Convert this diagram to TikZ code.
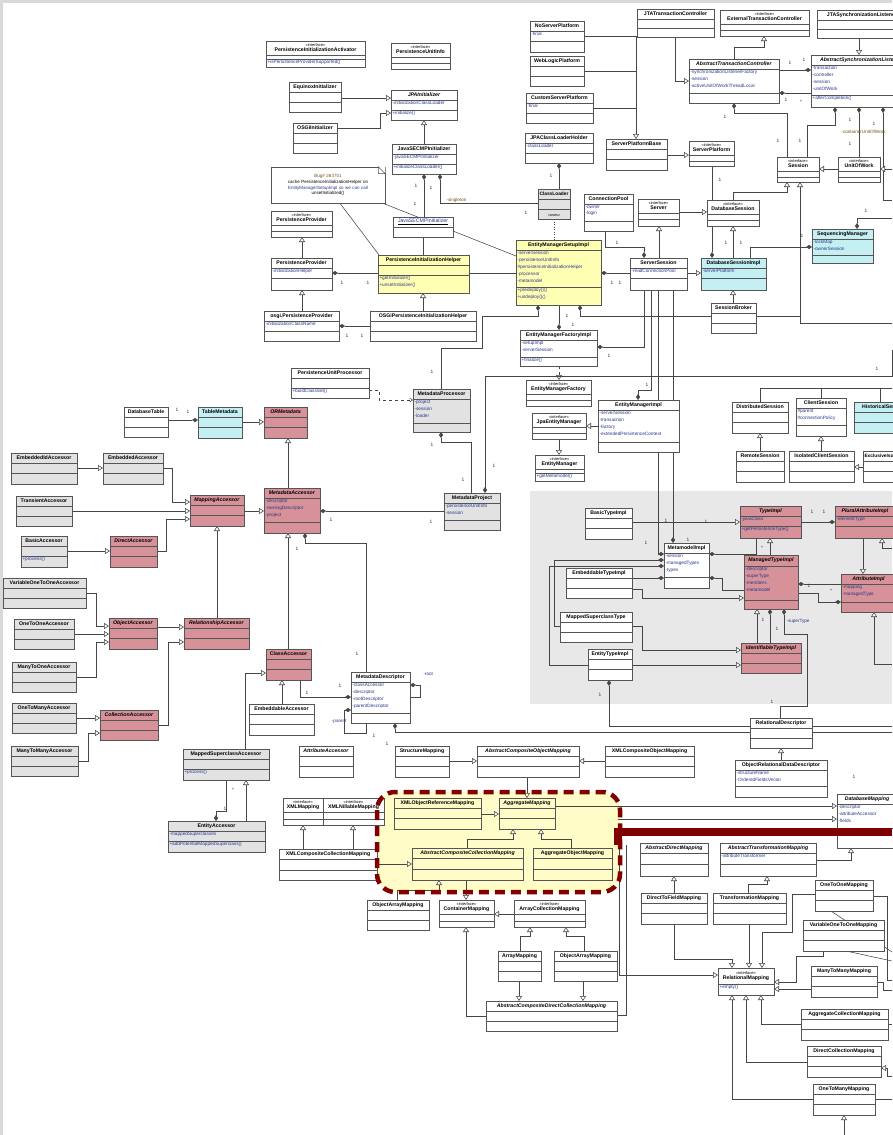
\documentclass[tikz,border=0pt]{standalone}
\usepackage{fontspec}
\setmainfont{Liberation Sans}
\usepackage{graphicx}
\usetikzlibrary{arrows.meta}
\pgfdeclarelayer{back}
\pgfdeclarelayer{bg}
\pgfdeclarelayer{front}
\pgfsetlayers{back,bg,main,front}
\definecolor{lc}{RGB}{70,70,70}
\definecolor{bc}{RGB}{85,85,85}
\definecolor{pinkc}{RGB}{214,146,152}
\definecolor{cyanc}{RGB}{196,240,244}
\definecolor{yelc}{RGB}{255,255,180}
\definecolor{grayc}{RGB}{226,226,226}
\definecolor{panel}{RGB}{232,232,232}
\definecolor{dred}{RGB}{128,0,0}
\definecolor{hly}{RGB}{255,252,200}
\definecolor{attc}{RGB}{40,55,140}
\definecolor{brn}{RGB}{120,80,20}
\newsavebox\clstbox
\def\parsegeo#1/#2/#3/#4/#5/#6\relax{\def\gX{#1}\def\gY{#2}\def\gW{#3}\def\gT{#4}\def\gA{#5}\def\gM{#6}}
\newcommand\tfont{\fontsize{5.2}{6}\selectfont\bfseries}
\newcommand\stereo[1]{{\fontsize{4}{4.5}\selectfont\mdseries «interface»}\\#1}
\newcommand\fittitle[2]{%
  \sbox\clstbox{\tfont\renewcommand\arraystretch{0.78}\begin{tabular}{@{}c@{}}#2\end{tabular}}%
  \ifdim\wd\clstbox>#1pt\relax\resizebox{#1pt}{!}{\usebox\clstbox}\else\usebox\clstbox\fi}
\newcounter{mc}
\newcommand\mul[2]{\stepcounter{mc}\node[mult] (mul\themc) at (#1) {#2};}
\tikzset{
  clsbox/.style={draw=bc, line width=0.55pt, fill=white, inner sep=0pt, outer sep=0pt},
  clsline/.style={draw=bc, line width=0.45pt},
  attr/.style={font=\fontsize{4.7}{6.8}\selectfont, text=attc, align=left, inner sep=0pt},
  ln/.style={draw=lc, line width=0.55pt},
  inh/.style={ln, -{Triangle[length=5pt,width=6pt,fill=white]}},
  dinh/.style={inh, dashed},
  comp/.style={ln, {Diamond[length=6pt,width=4pt]}-},
  compi/.style={ln, -{Diamond[length=6pt,width=4pt]}},
  dep/.style={ln, dashed, -{Straight Barb[length=3pt,width=4pt]}},
  mult/.style={font=\fontsize{4.8}{5}\selectfont, inner sep=0.3pt, text=black!80},
  elab/.style={font=\fontsize{4.6}{5}\selectfont, inner sep=0.3pt},
  notebox/.style={draw=bc, line width=0.55pt, fill=white, inner sep=1pt, minimum width=114pt, minimum height=36pt, text width=110pt, align=center, font=\fontsize{4.5}{5.8}\selectfont}
}
\newcommand\cls[6][]{%
  \parsegeo#3\relax
  \pgfmathsetmacro\hH{\gT+\gA+\gM}%
  \pgfmathsetmacro\hTA{\gT+\gA}%
  \pgfmathsetmacro\hTh{\gT/2}%
  \pgfmathsetmacro\hWm{\gW-3}%
  \pgfmathsetmacro\yA{\gT+1.3}%
  \pgfmathsetmacro\yM{\hTA+1.3}%
  \node[clsbox,#1,minimum width=\gW pt,minimum height=\hH pt,anchor=north west] (#2) at (\gX,\gY) {};
  \draw[clsline] ([yshift=-\gT pt]#2.north west) -- ([yshift=-\gT pt]#2.north east);
  \ifdim\gM pt>0pt\relax
    \draw[clsline] ([yshift=-\hTA pt]#2.north west) -- ([yshift=-\hTA pt]#2.north east);
  \fi
  \node[inner sep=0pt, text=black] (#2-t) at ([yshift=-\hTh pt]#2.north) {\fittitle{\hWm}{#4}};
  \node[attr,anchor=north west] (#2-a) at ([xshift=1.3pt,yshift=-\yA pt]#2.north west) {#5};
  \node[attr,anchor=north west] (#2-m) at ([xshift=1.3pt,yshift=-\yM pt]#2.north west) {#6};
}
\begin{document}
\begin{tikzpicture}[x=1pt,y=-1pt]
\useasboundingbox (0,0) rectangle (892,1135);
\begin{pgfonlayer}{back}
  \fill[black!15] (0,0) rectangle (892,1135);
  \fill[white] (3,3) rectangle (892,1135);
  \fill[panel] (530,491) rectangle (892,704);
  \fill[hly, rounded corners=18pt] (377,792) rectangle (620,892);
\end{pgfonlayer}

% ---------------- classes ----------------
\cls{pia}{266/41/99/14/4/8}{\stereo{PersistenceInitializationActivator}}{}{+isPersistenceProviderSupported()}
\cls{pui}{391/43/59/14/6/6}{\stereo{PersistenceUnitInfo}}{}{}
\cls{equinox}{289/82/52/10/10/10}{EquinoxInitializer}{}{}
\cls{osgiinit}{293/123/44/10/10/10}{OSGiInitializer}{}{}
\cls{jpainit}{391/90/66/10/10/10}{\textit{JPAInitializer}}{-initializationClassLoader}{+initialize()}
\cls{jse1}{392/144/64/10/10/10}{JavaSECMPInitializer}{-javaSECMPInitializer}{+initializeClassLoader()}
\node[notebox] (note) at (328,185) {\textcolor{brn}{Bug\# 263701}\\cache PersistenceInitializationHelper on\\\textcolor{attc}{EntityManagerSetupImpl so we can call}\\unsetInitialized()};
\fill[white] ([xshift=-7pt]note.north east) -- (note.north east) -- ([yshift=-7pt]note.north east) -- cycle;
\draw[bc, line width=0.5pt] ([xshift=-7pt]note.north east) -- ([xshift=-7pt,yshift=-7pt]note.north east) -- ([yshift=-7pt]note.north east) -- cycle;
\cls{ppi}{271/211/61/14/6/6}{\stereo{PersistenceProvider}}{}{}
\cls{jse2}{393/217/60/10/10/0}{\underline{\mdseries\textcolor{attc}{JavaSECMPInitializer}}}{}{}
\cls{ppc}{271/258/61/10/10/12}{PersistenceProvider}{-initializationHelper}{}
\cls[fill=yelc]{pih}{378/255/91/10/10/18}{PersistenceInitializationHelper}{}{+getInitializer()\\+unsetInitializer()}
\cls[fill=grayc]{classloader}{538/189/32/10/10/10}{ClassLoader}{}{}
\cls{connpool}{584/194/49/10/17/10}{ConnectionPool}{-owner\\-login}{}
\cls[fill=yelc]{emsetup}{516/240/85/10/37/18}{EntityManagerSetupImpl}{-serverSession\\-persistenceUnitInfo\\\#persistenceInitializationHelper\\-processor\\-metamodel}{+predeploy()()\\+undeploy()()}
\cls{noserver}{530/21/54/10/10/11}{NoServerPlatform}{-final}{}
\cls{weblogic}{530/56/54/10/10/10}{WebLogicPlatform}{}{}
\cls{customserver}{526/93/67/10/10/10}{CustomServerPlatform}{-final}{}
\cls{jpaclh}{525/133/68/10/10/10}{JPAClassLoaderHolder}{-classLoader}{}
\cls{jtatc}{637/9/77/10/9/9}{JTATransactionController}{}{}
\cls{etc}{720/10/89/14/6/6}{\stereo{ExternalTransactionController}}{}{}
\cls{jtasl}{817/10/90/10/9/9}{JTASynchronizationListener}{}{}
\cls{atc}{689/59/90/10/24/10}{\textit{AbstractTransactionController}}{-synchronizationListenerFactory\\-session\\-activeUnitOfWorkThreadLocal}{}
\cls{asl}{811/55/100/10/30/12}{\textit{AbstractSynchronizationListener}}{-transaction\\-controller\\-session\\-unitOfWork}{+afterCompletion()}
\cls{spbase}{606/139/61/10/10/11}{ServerPlatformBase}{}{}
\cls{splat}{689/141/45/14/6/5}{\stereo{ServerPlatform}}{}{}
\cls{session}{777/157/42/14/6/5}{\stereo{Session}}{}{}
\cls{uow}{838/157/42/14/6/5}{\stereo{UnitOfWork}}{}{}
\cls{server}{638/199/41/14/6/7}{\stereo{Server}}{}{}
\cls{dbsession}{707/200/52/14/6/6}{\stereo{DatabaseSession}}{}{}
\cls[fill=cyanc]{seqmgr}{812/229/61/10/16/8}{SequencingManager}{-lockMap\\-ownerSession}{}
\cls{srvsession}{630/258/57/10/10/12}{ServerSession}{-readConnectionPool}{}
\cls[fill=cyanc]{dbsimpl}{701/258/65/10/10/12}{DatabaseSessionImpl}{-serverPlatform}{}
\cls{broker}{711/303/45/10/10/10}{SessionBroker}{}{}
\cls{osgipp}{264/311/75/10/10/10}{osgi.PersistenceProvider}{-initializationClassName}{}
\cls{osgipih}{370/311/106/10/10/10}{OSGiPersistenceInitializationHelper}{}{}
\cls{pup}{291/368/78/10/10/10}{PersistenceUnitProcessor}{}{+buildClassSet()}
\cls[fill=grayc]{mproc}{413/389/57/10/24/9}{MetadataProcessor}{-project\\-session\\-loader}{}
\cls{emfimpl}{520/330/77/10/17/9}{EntityManagerFactoryImpl}{-setupImpl\\-serverSession}{+finalize()}
\cls{emf}{526/380/65/14/6/6}{\stereo{EntityManagerFactory}}{}{}
\cls{jpaem}{532/413/54/14/6/6}{\stereo{JpaEntityManager}}{}{}
\cls{em}{535/455/49/14/4/8}{\stereo{EntityManager}}{}{+getMetamodel()}
\cls{emimpl}{598/400/81/10/32/10}{EntityManagerImpl}{-serverSession\\-transaction\\-factory\\-extendedPersistenceContext}{}
\cls[fill=grayc]{mproject}{444/493/56/10/17/10}{MetadataProject}{-persistenceUnitInfo\\-session}{}
\cls{dbtable}{124/407/44/10/10/10}{DatabaseTable}{}{}
\cls[fill=cyanc]{tablemeta}{198/407/44/10/10/11}{TableMetadata}{}{}
\cls[fill=pinkc]{ormeta}{264/407/43/10/10/11}{\textit{ORMetadata}}{}{}
\cls[fill=grayc]{embid}{11/453/66/10/10/11}{EmbeddedIdAccessor}{}{}
\cls[fill=grayc]{embacc}{103/453/60/10/10/11}{EmbeddedAccessor}{}{}
\cls[fill=grayc]{transacc}{16/496/56/10/10/10}{TransientAccessor}{}{}
\cls[fill=pinkc]{mapacc}{190/495/54/10/10/11}{\textit{MappingAccessor}}{}{}
\cls[fill=pinkc]{metaacc}{264/488/56/10/24/11}{\textit{MetadataAccessor}}{-descriptor\\-owningDescriptor\\-project}{}
\cls[fill=grayc]{basicacc}{21/536/46/10/10/11}{BasicAccessor}{}{+process()}
\cls[fill=pinkc]{directacc}{110/536/47/10/10/11}{\textit{DirectAccessor}}{}{}
\cls[fill=grayc]{vo2o}{3/578/83/10/10/10}{VariableOneToOneAccessor}{}{}
\cls[fill=grayc]{o2o}{14/619/60/10/10/10}{OneToOneAccessor}{}{}
\cls[fill=grayc]{m2o}{12/662/64/10/10/10}{ManyToOneAccessor}{}{}
\cls[fill=grayc]{o2m}{12/703/64/10/10/10}{OneToManyAccessor}{}{}
\cls[fill=grayc]{m2m}{11/746/67/10/10/10}{ManyToManyAccessor}{}{}
\cls[fill=pinkc]{objacc}{109/618/48/10/10/11}{\textit{ObjectAccessor}}{}{}
\cls[fill=pinkc]{relacc}{184/618/65/10/10/11}{\textit{RelationshipAccessor}}{}{}
\cls[fill=pinkc]{collacc}{100/710/58/10/10/10}{\textit{CollectionAccessor}}{}{}
\cls[fill=pinkc]{classacc}{266/649/45/10/10/11}{ClassAccessor}{}{}
\cls{embdacc}{249/704/65/10/10/11}{EmbeddableAccessor}{}{}
\cls[fill=grayc]{msacc}{183/749/86/10/10/11}{MappedSuperclassAccessor}{}{+process()}
\cls[fill=grayc]{entacc}{168/821/97/10/10/11}{EntityAccessor}{-mappedSuperclasses}{+addPotentialMappedSuperclass()}
\cls{mdesc}{351/672/59/10/31/10}{MetadataDescriptor}{-classAccessor\\-descriptor\\-rootDescriptor\\-parentDescriptor}{}
\cls{attracc}{299/746/54/10/10/11}{\textit{AttributeAccessor}}{}{}
\cls{structmap}{395/746/54/10/10/11}{StructureMapping}{}{}
\cls{acom}{477/746/102/10/10/11}{\textit{AbstractCompositeObjectMapping}}{}{}
\cls{xmlcom}{605/746/89/10/10/11}{XMLCompositeObjectMapping}{}{}
\cls{xmlmap}{283/798/40/14/7/6}{\stereo{XMLMapping}}{}{}
\cls{xmlnil}{323/798/61/14/7/6}{\stereo{XMLNillableMapping}}{}{}
\cls[fill=hly]{xmlorm}{394/798/87/10/10/11}{XMLObjectReferenceMapping}{}{}
\cls[fill=hly]{aggmap}{499/798/56/10/10/11}{\textit{AggregateMapping}}{}{}
\cls[fill=hly]{accm}{412/848/111/10/11/11}{\textit{AbstractCompositeCollectionMapping}}{}{}
\cls[fill=hly]{aggobj}{533/848/79/10/11/11}{AggregateObjectMapping}{}{}
\cls{xmlccm}{279/849/98/10/11/10}{XMLCompositeCollectionMapping}{}{}
\cls{oam1}{367/900/62/10/10/10}{ObjectArrayMapping}{}{}
\cls{contmap}{439/900/55/14/7/6}{\stereo{ContainerMapping}}{}{}
\cls{acm}{514/900/71/14/7/6}{\stereo{ArrayCollectionMapping}}{}{}
\cls{arrmap}{498/951/43/10/10/10}{ArrayMapping}{}{}
\cls{oam2}{554/951/63/10/10/10}{ObjectArrayMapping}{}{}
\cls{acdcm}{486/1001/131/10/10/10}{\textit{AbstractCompositeDirectCollectionMapping}}{}{}
\cls{adm}{640/843/68/10/11/12}{\textit{AbstractDirectMapping}}{}{}
\cls{atm}{720/843/96/10/11/12}{\textit{AbstractTransformationMapping}}{-attributeTransformer}{}
\cls{dtf}{641/893/66/10/10/11}{DirectToFieldMapping}{}{}
\cls{tm}{713/893/73/10/10/11}{TransformationMapping}{}{}
\cls{o2om}{815/880/58/10/10/11}{OneToOneMapping}{}{}
\cls{vo2om}{803/920/81/10/10/11}{VariableOneToOneMapping}{}{}
\cls{relmap}{718/968/56/16/0/11}{\stereo{RelationalMapping}}{}{+empty()}
\cls{m2mm}{811/966/66/10/10/11}{ManyToManyMapping}{}{}
\cls{acolm}{801/1009/87/10/10/11}{AggregateCollectionMapping}{}{}
\cls{dcm}{807/1046/74/10/10/11}{DirectCollectionMapping}{}{}
\cls{o2mm}{813/1084/62/10/10/11}{OneToManyMapping}{}{}
\cls{dbmap}{837/794/60/10/24/20}{\textit{DatabaseMapping}}{-descriptor\\-attributeAccessor\\-fields}{}
\cls{reldesc}{750/718/62/10/10/10}{RelationalDescriptor}{}{}
\cls{ordd}{735/760/92/10/16/11}{ObjectRelationalDataDescriptor}{-structureName\\-OrderedFieldsVector}{}
\cls{basictype}{585/508/47/10/10/11}{BasicTypeImpl}{}{}
\cls{metamodel}{664/543/45/10/24/11}{MetamodelImpl}{-session\\-managedTypes\\-types}{}
\cls[fill=pinkc]{typeimpl}{740/506/61/10/10/12}{\textit{TypeImpl}}{-javaClass}{+getPersistenceType()}
\cls[fill=pinkc]{plural}{835/506/60/10/10/12}{\textit{PluralAttributeImpl}}{-elementType}{}
\cls[fill=pinkc]{managed}{744/555/54/11/34/9}{\textit{ManagedTypeImpl}}{-descriptor\\-superType\\-members\\-metamodel}{}
\cls[fill=pinkc]{attrimpl}{841/574/55/10/18/10}{\textit{AttributeImpl}}{-mapping\\-managedType}{}
\cls[fill=pinkc]{identif}{741/643/60/10/10/10}{\textit{IdentifiableTypeImpl}}{}{}
\cls{embtype}{566/568/66/10/10/10}{EmbeddableTypeImpl}{}{}
\cls{mstype}{560/612/72/10/10/10}{MappedSuperclassType}{}{}
\cls{enttype}{588/649/44/10/10/11}{EntityTypeImpl}{}{}
\cls{distsess}{732/402/56/10/10/11}{DistributedSession}{}{}
\cls{clientsess}{796/398/50/10/17/11}{ClientSession}{\#parent\\\#connectionPolicy}{}
\cls[fill=cyanc]{histsess}{854/402/60/10/10/11}{HistoricalSession}{}{}
\cls{remotesess}{736/451/48/10/10/11}{RemoteSession}{}{}
\cls{isoclient}{789/451/65/10/10/11}{IsolatedClientSession}{}{}
\cls{exiso}{863/451/75/10/10/11}{ExclusiveIsolatedClientSession}{}{}

% ---------------- connectors ----------------
\begin{pgfonlayer}{bg}
\draw[inh] (equinox.east |- 0,98) -- (jpainit.west |- 0,98);
\draw[inh] (osgiinit.east |- 0,128) -| (380,113) -- (jpainit.west |- 0,113);
\draw[inh] (424,0 |- jse1.north) -- (424,0 |- jpainit.south);
\draw[comp] (424,0 |- jse1.south) -- (424,0 |- jse2.north);
\draw[comp] (440,0 |- jse1.south) -- (440,203) -- (classloader.west |- 0,203);
\draw[ln] (423,0 |- jse2.south) -- (423,0 |- pih.north);
\draw[ln] (340,0 |- note.south) -- (379,0 |- pih.north);
\draw[ln] (383,0 |- note.south) -- (emsetup.west |- 0,256);
\draw[inh] (302,0 |- ppc.north) -- (302,0 |- ppi.south);
\draw[comp] (ppc.east |- 0,273) -- (pih.west |- 0,273);
\draw[ln] (pih.east |- 0,273) -- (emsetup.west |- 0,273);
\draw[inh] (302,0 |- osgipp.north) -- (302,0 |- ppc.south);
\draw[inh] (423,0 |- osgipih.north) -- (423,0 |- pih.south);
\draw[comp] (osgipp.east |- 0,326) -- (osgipih.west |- 0,326);
\draw[ln, dotted] (554,0 |- classloader.south) -- (554,0 |- emsetup.north);
\draw[comp] (559,0 |- jpaclh.south) -- (559,0 |- classloader.north);
\draw[compi] (605,0 |- connpool.south) |- (644,247) -- (644,0 |- srvsession.north);
\draw[inh] (659,0 |- srvsession.north) -- (659,0 |- server.south);
\draw[inh] (server.east |- 0,212) -- (dbsession.west |- 0,212);
\draw[inh] (733,0 |- dbsimpl.north) -- (733,0 |- dbsession.south);
\draw[inh] (srvsession.east |- 0,273) -- (dbsimpl.west |- 0,273);
\draw[compi] (712,0 |- splat.south) -- (712,0 |- dbsimpl.north);
\draw[inh] (spbase.east |- 0,155) -- (splat.west |- 0,155);
\draw[inh] (noserver.east |- 0,36) -| (636,0 |- spbase.north);
\draw[ln] (weblogic.east |- 0,71) -- (636,71);
\draw[ln] (customserver.east |- 0,108) -- (636,108);
\draw[inh] (675,0 |- jtatc.south) |- (atc.west |- 0,81);
\draw[inh] (734,0 |- atc.north) |- (764,47) -- (764,0 |- etc.south);
\draw[compi] (atc.east |- 0,70) -- (asl.west |- 0,70);
\draw[comp] (atc.east |- 0,93) -- (asl.west |- 0,93);
\draw[inh] (859,0 |- jtasl.south) -- (859,0 |- asl.north);
\draw[comp] (734,0 |- atc.south) |- (787,113) -- (787,0 |- session.north);
\draw[comp] (835,0 |- asl.south) |- (807,125) -- (807,0 |- session.north);
\draw[comp] (859,0 |- asl.south) -- (859,0 |- uow.north);
\draw[comp] (883,0 |- asl.south) -- (883,200) -- (892,200);
\draw[inh] (892,169) -- (uow.east |- 0,169);
\draw[inh] (uow.west |- 0,169) -- (session.east |- 0,169);
\draw[inh] (733,0 |- dbsession.north) |- (787,192) -- (787,0 |- session.south);
\draw[inh] (892,323) -| (800,0 |- session.south);
\draw[compi] (750,0 |- dbsimpl.north) |- (seqmgr.west |- 0,247);
\draw[comp] (857,0 |- seqmgr.north) |- (892,218);
\draw[comp] (emsetup.east |- 0,273) -- (srvsession.west |- 0,273);
\draw[inh] (733,0 |- broker.north) -- (733,0 |- dbsimpl.south);
\draw[comp] (538,0 |- emsetup.south) |- (482,316) |- (441,348) -- (441,0 |- mproc.north);
\draw[compi] (559,0 |- emsetup.south) -- (559,0 |- emfimpl.north);
\draw[comp] (580,0 |- emsetup.south) |- (800,316);
\draw[dinh] (559,0 |- emfimpl.south) -- (559,0 |- emf.north);
\draw[compi] (892,350) |- (485,376) -- (485,0 |- mproject.north);
\draw[inh] (559,0 |- jpaem.south) -- (559,0 |- em.north);
\draw[inh] (emimpl.west |- 0,426) -- (jpaem.east |- 0,426);
\draw[compi] (651,0 |- srvsession.south) |- (638,390) -- (638,0 |- emimpl.north);
\draw[compi] (644,0 |- srvsession.south) |- (emfimpl.east |- 0,347);
\draw[compi] (673,0 |- srvsession.south) -- (673,0 |- metamodel.north);
\draw[compi] (658,0 |- srvsession.south) |- (metamodel.west |- 0,554);
\draw[ln] (760,0 |- distsess.north) |- (892,388);
\draw[ln] (821,0 |- clientsess.north) -- (821,388);
\draw[ln] (880,0 |- histsess.north) -- (880,388);
\draw[inh] (760,0 |- remotesess.north) -- (760,0 |- distsess.south);
\draw[inh] (821,0 |- isoclient.north) -- (821,0 |- clientsess.south);
\draw[inh] (exiso.west |- 0,467) -- (isoclient.east |- 0,467);
% metamodel
\draw[inh] (basictype.east |- 0,522) -- (typeimpl.west |- 0,522);
\draw[comp] (metamodel.east |- 0,554) -| (756,0 |- typeimpl.south);
\draw[inh] (770,0 |- managed.north) -- (770,0 |- typeimpl.south);
\draw[compi] (typeimpl.east |- 0,522) -- (plural.west |- 0,522);
\draw[inh] (863,0 |- plural.south) -- (863,0 |- attrimpl.north);
\draw[inh] (892,548) -| (882,0 |- plural.south);
\draw[inh] (892,664) -| (874,0 |- attrimpl.south);
\draw[comp] (managed.east |- 0,584) -- (attrimpl.west |- 0,584);
\draw[compi] (managed.east |- 0,593) -| (818,602) -- (attrimpl.west |- 0,602);
\draw[inh] (757,0 |- identif.north) -- (757,0 |- managed.south);
\draw[comp] (770,0 |- managed.south) -- (770,0 |- identif.north);
\draw[comp] (784,0 |- managed.south) |- (807,634) |- (780,706) -- (780,0 |- reldesc.north);
\draw[inh] (mstype.east |- 0,626) -| (642,650) -- (identif.west |- 0,650);
\draw[inh] (enttype.east |- 0,665) -- (identif.west |- 0,665);
\draw[inh] (embtype.east |- 0,589) -| (642,598) -- (managed.west |- 0,598);
\draw[compi] (embtype.east |- 0,578) -- (metamodel.west |- 0,578);
\draw[comp] (metamodel.west |- 0,566) -| (549,665) -- (enttype.west |- 0,665);
\draw[comp] (metamodel.west |- 0,560) -| (554,626) -- (mstype.west |- 0,626);
\draw[comp] (metamodel.east |- 0,578) -| (722,590) -- (managed.west |- 0,590);
\draw[comp] (609,0 |- enttype.south) |- (reldesc.west |- 0,726);
\draw[inh] (781,0 |- ordd.north) -- (781,0 |- reldesc.south);
\draw[comp] (395,0 |- mdesc.south) |- (reldesc.west |- 0,732);
\draw[ln] (reldesc.east |- 0,726) -- (892,726);
\draw[ln] (reldesc.east |- 0,732) -- (892,732);
% mappings
\draw[inh] (structmap.east |- 0,761) -- (acom.west |- 0,761);
\draw[inh] (xmlcom.west |- 0,761) -- (acom.east |- 0,761);
\draw[inh] (527,0 |- acom.south) -- (527,0 |- aggmap.north);
\draw[inh] (xmlorm.east |- 0,814) -- (aggmap.west |- 0,814);
\draw[inh] (467,0 |- accm.north) |- (513,839) -- (513,0 |- aggmap.south);
\draw[inh] (571,0 |- aggobj.north) |- (541,839) -- (541,0 |- aggmap.south);
\draw[inh] (xmlccm.east |- 0,864) -- (accm.west |- 0,864);
\draw[inh] (303,0 |- xmlccm.north) -- (303,0 |- xmlmap.south);
\draw[inh] (353,0 |- xmlccm.north) -- (353,0 |- xmlnil.south);
\draw[inh] (aggmap.east |- 0,806) -- (dbmap.west |- 0,806);
\coordinate (hlR) at (618,819);
\draw[inh] (hlR) -- (dbmap.west |- hlR);
\draw[inh] (397,0 |- oam1.north) |- (439,890) -- (439,0 |- accm.south);
\draw[inh] (466,0 |- accm.south) -- (466,0 |- contmap.north);
\draw[inh] (acm.west |- 0,914) -- (contmap.east |- 0,914);
\draw[inh] (520,0 |- arrmap.north) |- (530,936) -- (530,0 |- acm.south);
\draw[inh] (584,0 |- oam2.north) |- (566,936) -- (566,0 |- acm.south);
\draw[inh] (519,0 |- arrmap.south) -- (519,0 |- acdcm.north);
\draw[inh] (583,0 |- oam2.south) -- (583,0 |- acdcm.north);
\draw[inh] (acdcm.west |- 0,1016) -| (466,0 |- contmap.south);
\draw[inh] (674,0 |- dtf.north) -- (674,0 |- adm.south);
\draw[inh] (748,0 |- tm.north) |- (767,884) -- (767,0 |- atm.south);
\draw[inh] (atm.east |- 0,860) -| (851,0 |- dbmap.south);
\draw[inh] (674,0 |- dtf.south) |- (732,959) -- (732,0 |- relmap.north);
\draw[inh] (749,0 |- tm.south) -- (749,0 |- relmap.north);
\draw[inh] (o2om.west |- 0,894) -| (792,932) -| (762,0 |- relmap.north);
\draw[inh] (823,0 |- vo2om.south) |- (796,956) |- (relmap.east |- 0,982);
\draw[inh] (m2mm.west |- 0,989) -- (relmap.east |- 0,989);
\draw[inh] (acolm.west |- 0,1024) -| (761,0 |- relmap.south);
\draw[inh] (dcm.west |- 0,1062) -| (746,0 |- relmap.south);
\draw[inh] (o2mm.west |- 0,1099) -| (732,0 |- relmap.south);
\draw[inh] (844,1135) -- (844,0 |- o2mm.south);
\draw[inh] (892,1076) -| (887,1068) -- (dcm.east |- 0,1068);
\draw[inh] (619,845) |- (relmap.west |- 0,975);
\draw[ln] (acdcm.east |- 0,1015) -| (626,845);
\draw[ln] (o2om.east |- 0,896) -| (887,980) -- (892,980);
\draw[ln] (831,0 |- o2om.south) -- (892,952);
\draw[ln] (846,0 |- vo2om.south) -- (892,961);
\draw[ln] (m2mm.east |- 0,982) -| (883,990) -- (892,990);
\draw[ln] (acolm.east |- 0,1024) -- (892,1024);
\draw[ln] (o2mm.east |- 0,1099) -- (892,1099);
% accessors
\draw[compi] (dbtable.east |- 0,420) -- (tablemeta.west |- 0,420);
\draw[inh] (tablemeta.east |- 0,422) -- (ormeta.west |- 0,422);
\draw[inh] (288,0 |- metaacc.north) -- (288,0 |- ormeta.south);
\draw[inh] (mapacc.east |- 0,511) -- (metaacc.west |- 0,511);
\draw[inh] (embid.east |- 0,468) -- (embacc.west |- 0,468);
\draw[inh] (embacc.east |- 0,468) -| (172,502) -- (mapacc.west |- 0,502);
\draw[inh] (transacc.east |- 0,511) -- (mapacc.west |- 0,511);
\draw[inh] (directacc.east |- 0,551) -| (166,519) -- (mapacc.west |- 0,519);
\draw[inh] (basicacc.east |- 0,551) -- (directacc.west |- 0,551);
\draw[inh] (217,0 |- relacc.north) -- (217,0 |- mapacc.south);
\draw[inh] (288,0 |- classacc.north) -- (288,0 |- metaacc.south);
\draw[comp] (305,0 |- metaacc.south) |- (366,543) -- (366,0 |- mdesc.north);
\draw[comp] (metaacc.east |- 0,511) -- (mproject.west |- 0,511);
\draw[comp] (441,0 |- mproc.south) |- (471,442) -- (471,0 |- mproject.north);
\draw[dep] (pup.east |- 0,390) -| (379,400) -- (mproc.west |- 0,400);
\draw[inh] (objacc.east |- 0,627) -- (relacc.west |- 0,627);
\draw[inh] (collacc.east |- 0,725) -| (168,642) -- (relacc.west |- 0,642);
\draw[inh] (vo2o.east |- 0,593) -| (96,626) -- (objacc.west |- 0,626);
\draw[inh] (o2o.east |- 0,634) -- (objacc.west |- 0,634);
\draw[inh] (m2o.east |- 0,677) -| (96,642) -- (objacc.west |- 0,642);
\draw[inh] (o2m.east |- 0,718) -- (collacc.west |- 0,718);
\draw[inh] (m2m.east |- 0,761) -| (88,733) -- (collacc.west |- 0,733);
\draw[inh] (282,0 |- embdacc.north) -- (282,0 |- classacc.south);
\draw[inh] (245,0 |- msacc.north) |- (classacc.west |- 0,673);
\draw[inh] (246,0 |- entacc.north) -- (246,0 |- msacc.south);
\draw[compi] (226,0 |- msacc.south) |- (216,811) -- (216,0 |- entacc.north);
\draw[compi] (300,0 |- classacc.south) |- (mdesc.west |- 0,697);
\draw[comp] (mdesc.east |- 0,685) -| (420,697) -- (mdesc.east |- 0,697);
\draw[comp] (mdesc.west |- 0,710) -| (344,733) -| (366,0 |- mdesc.south);
\end{pgfonlayer}

% ---------------- labels ----------------
\node[elab, font=\fontsize{3.8}{4}\selectfont] (uses) at (554,215) {«uses»};
\node[elab, text=brn, anchor=west] (singl) at (446,200) {-singleton};
\node[elab, text=brn, anchor=west] (cuow) at (841,132) {-containerUnitOfWork};
\node[elab, text=attc, anchor=west] (supt) at (786,621) {-superType};
\node[elab, text=attc, anchor=west] (rootl) at (423,674) {-root};
\node[elab, text=attc, anchor=east] (parl) at (347,721) {-parent};
\mul{416,186}{1} \mul{431,188}{1} \mul{415,204}{1} \mul{526,213}{1}
\mul{342,283}{1} \mul{368,283}{1} \mul{347,336}{1} \mul{362,336}{1}
\mul{551,176}{1} \mul{617,243}{1} \mul{720,180}{1} \mul{726,243}{1} \mul{741,243}{1}
\mul{790,63}{1} \mul{804,60}{1} \mul{786,100}{1} \mul{801,102}{*}
\mul{725,117}{1} \mul{778,141}{1} \mul{800,141}{1} \mul{850,120}{1} \mul{850,144}{1} \mul{874,124}{1}
\mul{802,236}{1} \mul{866,211}{1} \mul{612,283}{1} \mul{620,283}{1}
\mul{432,372}{1} \mul{567,316}{1} \mul{573,325}{1} \mul{609,356}{1} \mul{647,385}{1}
\mul{494,466}{1} \mul{877,369}{1} \mul{177,410}{1} \mul{188,412}{1}
\mul{297,549}{1} \mul{357,654}{1} \mul{331,520}{1} \mul{431,522}{1}
\mul{432,445}{1} \mul{463,480}{1} \mul{233,790}{*} \mul{225,809}{1}
\mul{307,693}{1} \mul{340,686}{1} \mul{374,736}{1} \mul{387,744}{1}
\mul{666,521}{1} \mul{706,522}{1} \mul{812,512}{1} \mul{824,512}{1}
\mul{646,543}{1} \mul{688,540}{1} \mul{763,620}{1} \mul{777,629}{1} \mul{772,702}{1}
\mul{809,586}{1} \mul{831,591}{*} \mul{762,548}{*} \mul{600,695}{1} \mul{854,777}{1}

% ---------------- highlight ----------------
\begin{pgfonlayer}{front}
  \draw[dred, line width=4.5pt, dash pattern=on 10pt off 6pt, rounded corners=18pt] (377,792) rectangle (620,892);
  \fill[dred] (614,828) rectangle (892,836);
  \fill[dred] (614,828) rectangle (622,845);
\end{pgfonlayer}
\end{tikzpicture}
\end{document}
